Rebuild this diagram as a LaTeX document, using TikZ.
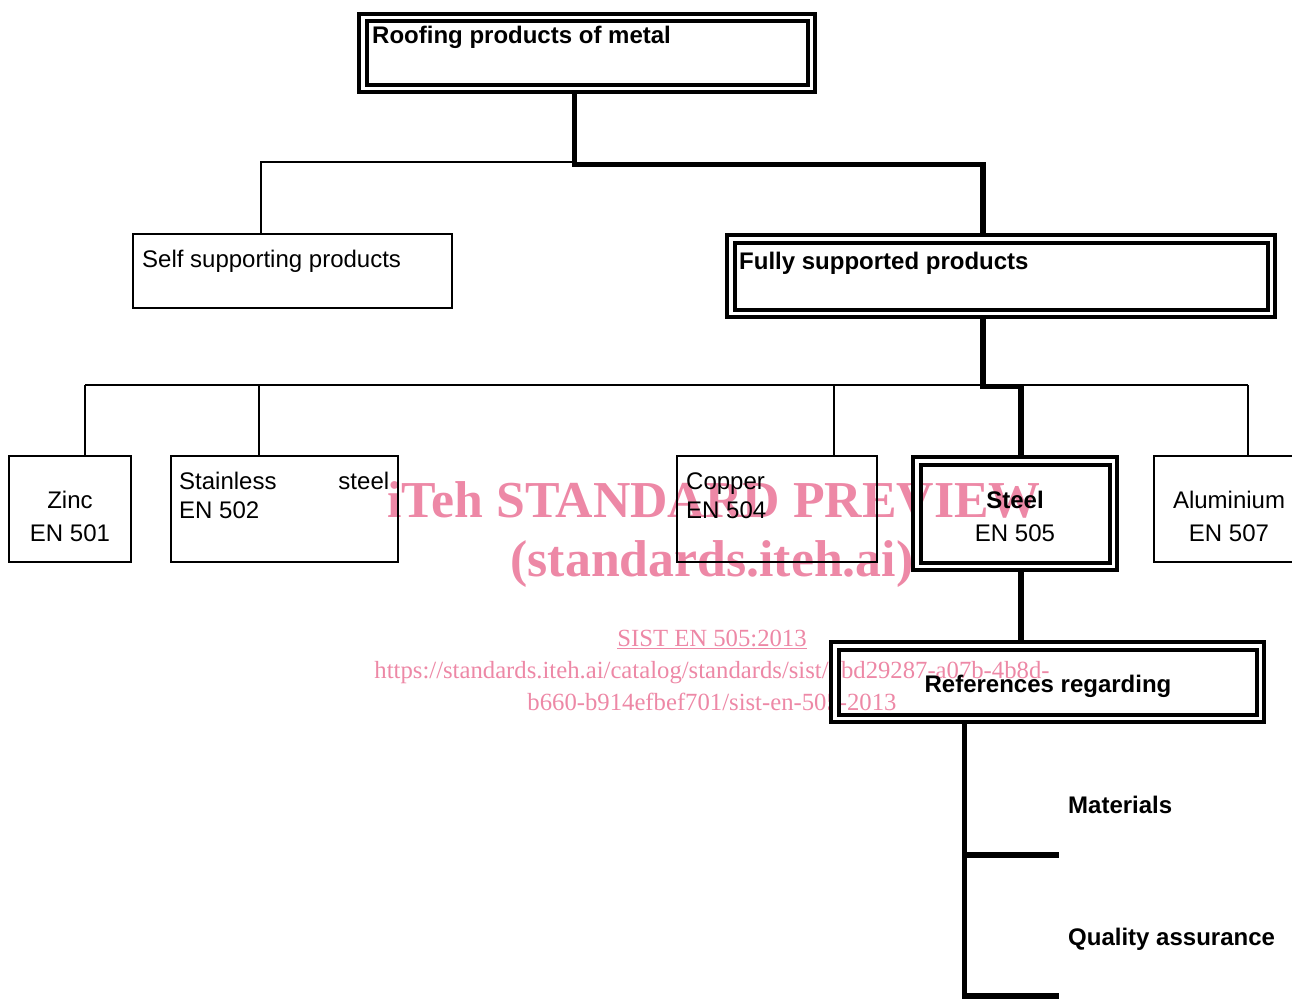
\documentclass[tikz,border=0pt]{standalone}
\usepackage{fontspec}
\setmainfont{Liberation Sans}
\newfontfamily\wmfont{Liberation Serif}
\definecolor{wmpink}{RGB}{237,136,166}
\tikzset{
  lite/.style={line width=2pt},
  hair/.style={line width=1.3pt},
  heavy/.style={line width=5.5pt},
  plainbox/.style={draw, line width=2pt, inner sep=0pt},
  dblbox/.style={draw, double, line width=4pt, double distance=3.5pt, inner sep=0pt},
  txt/.style={inner sep=0pt, font=\fontsize{24}{29}\selectfont},
  txtc/.style={inner sep=0pt, align=center, font=\fontsize{24}{33}\selectfont},
  btxt/.style={inner sep=0pt, font=\fontsize{24}{29}\selectfont\bfseries},
  wmbig/.style={inner sep=0pt, text=wmpink, font=\fontsize{51.8}{55}\selectfont\wmfont\bfseries},
  wmsmall/.style={inner sep=0pt, text=wmpink, font=\fontsize{24.7}{28}\selectfont\wmfont},
}
\begin{document}
\begin{tikzpicture}[x=1pt, y=-1pt]
\useasboundingbox (0,0) rectangle (1292,998);

% watermark (behind everything)
\node[wmbig, anchor=base] (wm1) at (714,517) {iTeh STANDARD PREVIEW};
\node[wmbig, anchor=base] (wm2) at (712,576) {(standards.iteh.ai)};
\node[wmsmall, anchor=base] (wm3) at (712,646) {\underline{SIST EN 505:2013}};
\node[wmsmall, anchor=base] (wm4) at (712,678) {https://standards.iteh.ai/catalog/standards/sist/7bd29287-a07b-4b8d-};
\node[wmsmall, anchor=base] (wm5) at (712,710) {b660-b914efbef701/sist-en-505-2013};

% boxes
\node[dblbox, minimum width=448.5pt, minimum height=70.5pt] (top) at (587,53) {};
\node[plainbox, minimum width=319pt, minimum height=74pt] (self) at (292.5,271) {};
\node[dblbox, minimum width=540.5pt, minimum height=74.5pt] (fully) at (1001,276) {};
\node[plainbox, minimum width=122pt, minimum height=106pt] (zinc) at (70,509) {};
\node[plainbox, minimum width=227pt, minimum height=106pt] (stain) at (284.5,509) {};
\node[plainbox, minimum width=200pt, minimum height=106pt] (copper) at (777,509) {};
\node[dblbox, minimum width=196.5pt, minimum height=105.5pt] (steel) at (1015,513.5) {};
\node[plainbox, minimum width=160pt, minimum height=106pt] (alu) at (1234,509) {};
\node[dblbox, minimum width=425.5pt, minimum height=72.5pt] (refs) at (1047.5,682) {};

% texts
\node[btxt, anchor=base west] (ttop) at (372,44) {Roofing products of metal};
\node[txt, anchor=base west] (tself) at (142,267.5) {Self supporting products};
\node[btxt, anchor=base west] (tfully) at (739,269) {Fully supported products};
\node[txtc] (tzinc) at (70,516) {Zinc\\EN 501};
\node[txt, anchor=north west, align=left] (tstain) at (179,472) {\makebox[210pt][l]{Stainless\hfill steel}\\EN 502};
\node[txt, anchor=north west, align=left] (tcopper) at (686,473) {Copper\\EN 504};
\node[txtc] (tsteel) at (1015,516) {\textbf{Steel}\\EN 505};
\node[txtc] (talu) at (1229,516) {Aluminium\\EN 507};
\node[btxt, anchor=base] (trefs) at (1048,692) {References regarding};
\node[btxt, anchor=base west] (tmat) at (1068,813) {Materials};
\node[btxt, anchor=base west] (tqa) at (1068,945) {Quality assurance};

% connectors
\coordinate (j1) at (574.5,164.5);
\coordinate (j2) at (983,164.5);
\draw[heavy] (top.south -| j1) -- (j1) -- (j2) -- (j2 |- fully.north);
\coordinate (j3) at (574,162);
\coordinate (j4) at (261,162);
\draw[lite] (j3) -- (j4) -- (j4 |- self.north);

\coordinate (k1) at (983,386.5);
\coordinate (k2) at (1021,386.5);
\draw[heavy] (fully.south -| k1) -- (k1) -- (k2) -- (k2 |- steel.north);

\coordinate (bL) at (85,385);
\coordinate (g1) at (498,385);
\coordinate (g2) at (599,385);
\coordinate (bR) at (1248,385);
\coordinate (bS) at (259,385);
\coordinate (bC) at (834,385);
\draw[lite] (bL) -- (g1);
\draw[hair] (g1) -- (g2);
\draw[lite] (g2) -- (bR);
\draw[lite] (bL) -- (bL |- zinc.north);
\draw[lite] (bS) -- (bS |- stain.north);
\draw[lite] (bC) -- (bC |- copper.north);
\draw[lite] (bR) -- (bR |- alu.north);

\draw[heavy] (steel.south -| k2) -- (k2 |- refs.north);

\coordinate (r1) at (964.5,1002);
\coordinate (m1) at (1059,855);
\coordinate (q1) at (1059,996);
\draw[heavy] (refs.south -| r1) -- (r1);
\draw[heavy] (m1 -| r1) -- (m1);
\draw[heavy] (q1 -| r1) -- (q1);
\end{tikzpicture}
\end{document}
